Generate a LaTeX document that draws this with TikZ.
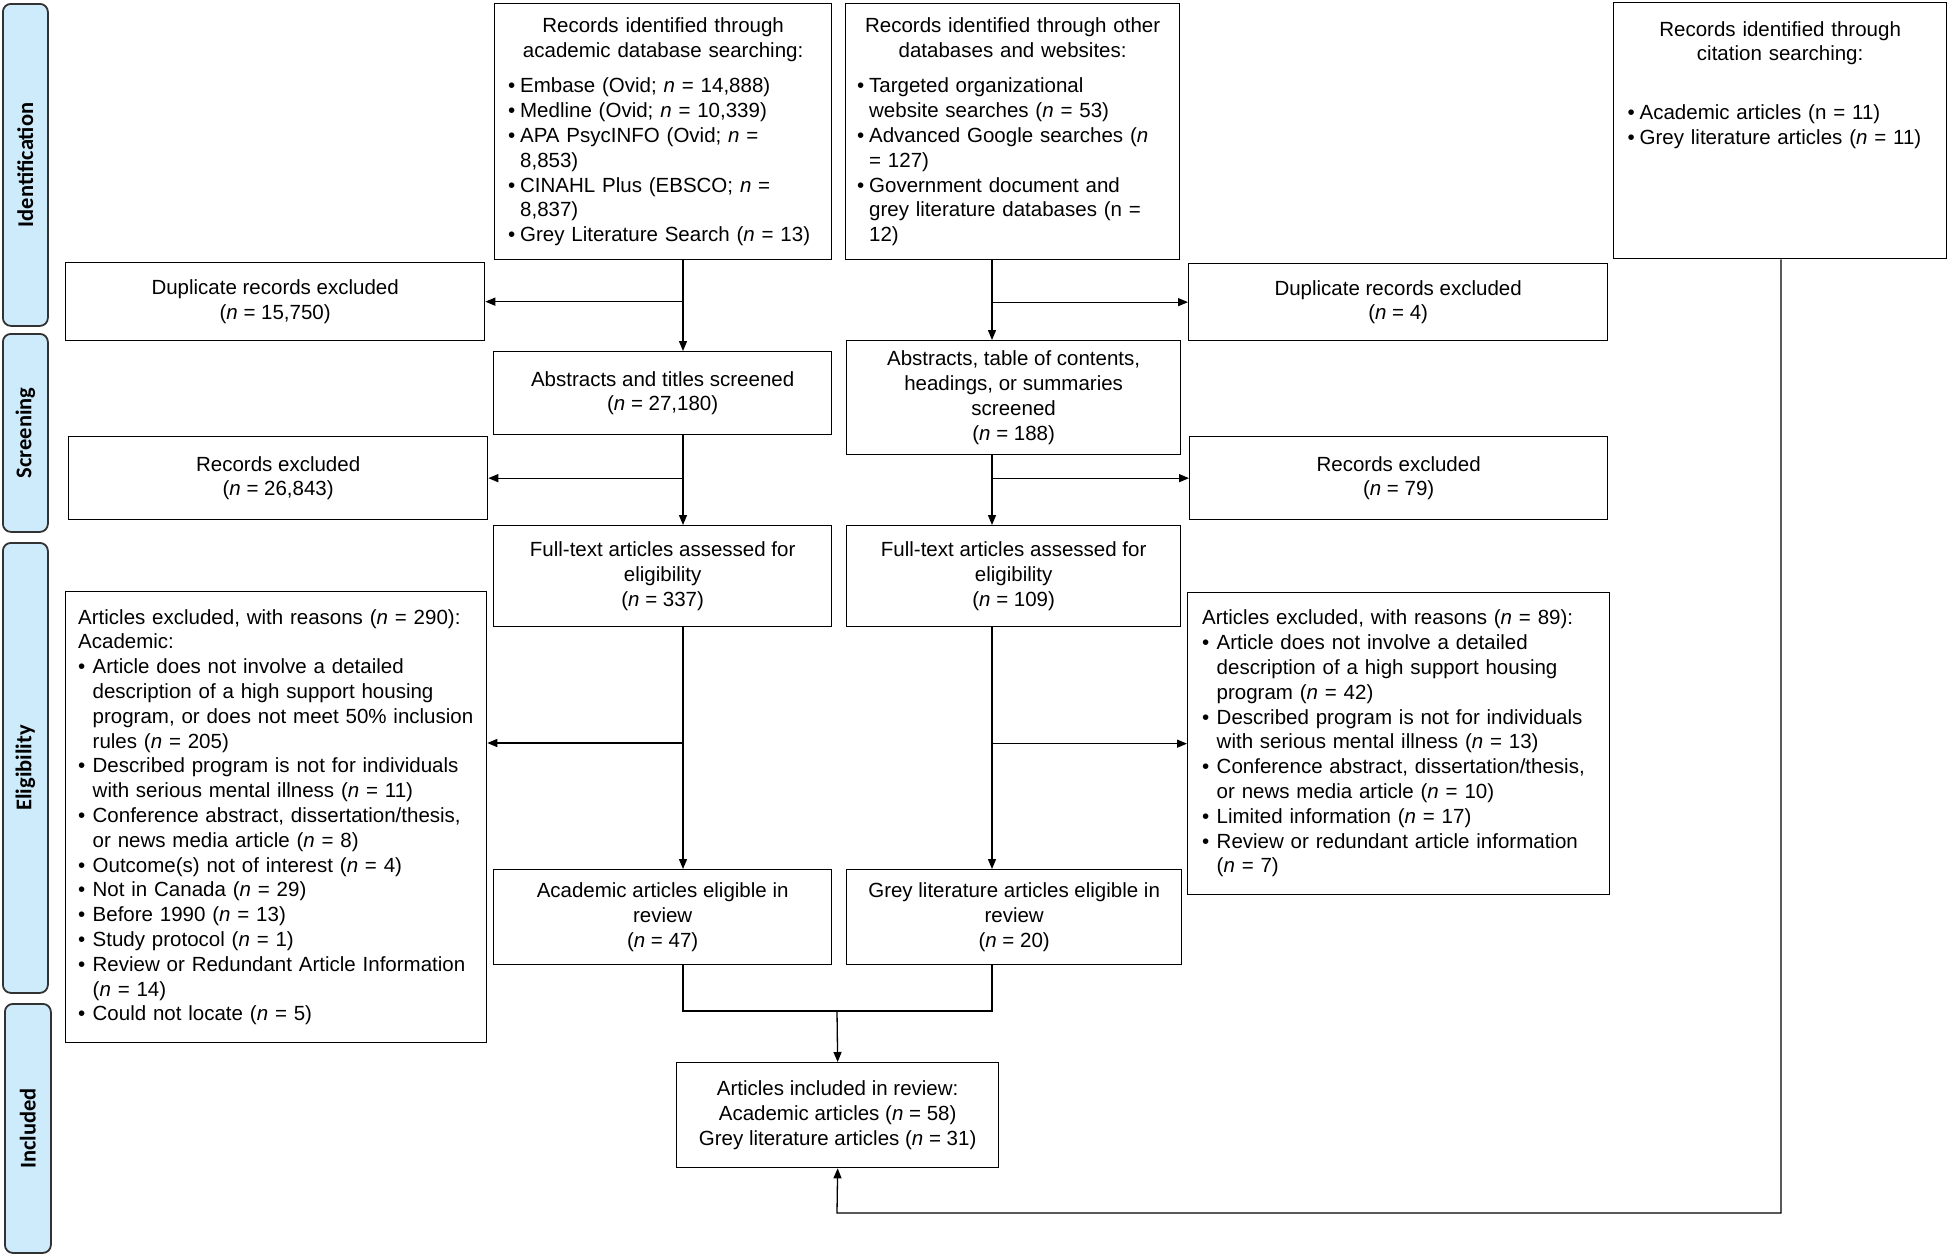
\documentclass[tikz,border=0pt]{standalone}
\usepackage{graphicx}
\usepackage{fontspec}
\setmainfont{Liberation Sans}
\newfontfamily\labfont{Carlito}
\usetikzlibrary{arrows.meta}
\definecolor{phasefill}{RGB}{205,235,250}
\definecolor{phaseline}{RGB}{50,50,50}
\newcommand\bx{\fontsize{20.5pt}{24.8pt}\selectfont\hyphenpenalty=10000\exhyphenpenalty=10000}
\newcommand\nn{\textit{n}}
\newcommand\bi[1]{\mbox{\makebox[12pt][l]{•}#1}}
\newcommand\ci[1]{\mbox{\hspace*{12pt}#1}}
\newcommand\bj[1]{\mbox{\makebox[14.5pt][l]{•}#1}}
\newcommand\cj[1]{\mbox{\hspace*{14.5pt}#1}}
\newcommand\hd[1]{\makebox[\linewidth][c]{#1}}
\tikzset{
  box/.style={draw=black, line width=1.3pt, anchor=north west, inner sep=0pt, font=\bx, align=center},
  lbox/.style={draw=black, line width=1.3pt, anchor=north west, inner sep=0pt, font=\bx, align=left},
  txt/.style={inner sep=0pt, font=\bx, align=left},
  phase/.style={draw=phaseline, fill=phasefill, line width=1.8pt, rounded corners=8pt, anchor=north west, inner sep=0pt, font=\labfont\bfseries\fontsize{22.5pt}{27pt}\selectfont},
  arr/.style={line width=1.3pt, -{Triangle[length=10pt,width=8pt]}},
  ln/.style={line width=1.3pt}
}
\begin{document}
\begin{tikzpicture}[x=1pt,y=-1pt]
\useasboundingbox (0,0) rectangle (1949,1254);
% phase labels
\node[phase, minimum width=45pt, minimum height=322pt] (pid) at (2,3) {\rotatebox{90}{Identification}};
\node[phase, minimum width=45pt, minimum height=198pt] (pscr) at (2,333) {\rotatebox{90}{Screening}};
\node[phase, minimum width=45pt, minimum height=450pt] (peli) at (2,542) {\rotatebox{90}{Eligibility}};
\node[phase, minimum width=46pt, minimum height=249pt] (pinc) at (4,1003) {\rotatebox{90}{Included}};
% identification boxes
\node[lbox, minimum width=337pt, minimum height=256pt, text width=310pt] (acad) at (494,3) {%
\hd{Records identified through}\\
\hd{academic database searching:}\\[11pt]
\bi{Embase (Ovid; \nn{} = 14,888)}\\
\bi{Medline (Ovid; \nn{} = 10,339)}\\
\bi{APA PsycINFO (Ovid; \nn{} =}\\
\ci{8,853)}\\
\bi{CINAHL Plus (EBSCO; \nn{} =}\\
\ci{8,837)}\\
\bi{Grey Literature Search (\nn{} = 13)}};
\node[lbox, minimum width=334pt, minimum height=256pt, text width=311pt] (other) at (845,3) {%
\hd{Records identified through other}\\
\hd{databases and websites:}\\[11pt]
\bi{Targeted organizational}\\
\ci{website searches (\nn{} = 53)}\\
\bi{Advanced Google searches (\nn}\\
\ci{= 127)}\\
\bi{Government document and}\\
\ci{grey literature databases (n =}\\
\ci{12)}};
\node[box, minimum width=333pt, minimum height=256pt] (cite) at (1613,2) {};
\node[txt, anchor=north, text width=305pt] (citetxt) at ([yshift=-19pt]cite.north) {%
\hd{Records identified through}\\
\hd{citation searching:}\\[34pt]
\bi{Academic articles (n = 11)}\\
\bi{Grey literature articles (\nn{} = 11)}};
\node[box, minimum width=419pt, minimum height=78pt] (dupL) at (65,262) {Duplicate records excluded\\(\nn{} = 15,750)};
\node[box, minimum width=419pt, minimum height=77pt] (dupR) at (1188,263) {Duplicate records excluded\\(\nn{} = 4)};
% screening
\node[box, minimum width=338pt, minimum height=83pt] (abs1) at (493,351) {Abstracts and titles screened\\(\nn{} = 27,180)};
\node[box, minimum width=334pt, minimum height=114pt] (abs2) at (846,340) {Abstracts, table of contents,\\headings, or summaries\\screened\\(\nn{} = 188)};
\node[box, minimum width=419pt, minimum height=83pt] (recL) at (68,436) {Records excluded\\(\nn{} = 26,843)};
\node[box, minimum width=418pt, minimum height=83pt] (recR) at (1189,436) {Records excluded\\(\nn{} = 79)};
% eligibility
\node[box, minimum width=338pt, minimum height=101pt] (ft1) at (493,525) {Full-text articles assessed for\\eligibility\\(\nn{} = 337)};
\node[box, minimum width=334pt, minimum height=101pt] (ft2) at (846,525) {Full-text articles assessed for\\eligibility\\(\nn{} = 109)};
\node[box, minimum width=421pt, minimum height=451pt] (lex) at (65,591) {};
\node[txt, anchor=west, text width=405pt] (lextxt) at ([xshift=13pt]lex.west) {%
Articles excluded, with reasons (\nn{} = 290):\\
Academic:\\
\bj{Article does not involve a detailed}\\
\cj{description of a high support housing}\\
\cj{program, or does not meet 50\% inclusion}\\
\cj{rules (\nn{} = 205)}\\
\bj{Described program is not for individuals}\\
\cj{with serious mental illness (\nn{} = 11)}\\
\bj{Conference abstract, dissertation/thesis,}\\
\cj{or news media article (\nn{} = 8)}\\
\bj{Outcome(s) not of interest (\nn{} = 4)}\\
\bj{Not in Canada (\nn{} = 29)}\\
\bj{Before 1990 (\nn{} = 13)}\\
\bj{Study protocol (\nn{} = 1)}\\
\bj{Review or Redundant Article Information}\\
\cj{(\nn{} = 14)}\\
\bj{Could not locate (\nn{} = 5)}};
\node[box, minimum width=422pt, minimum height=302pt] (rex) at (1187,592) {};
\node[txt, anchor=west, text width=405pt] (rextxt) at ([xshift=15pt]rex.west) {%
Articles excluded, with reasons (\nn{} = 89):\\
\bj{Article does not involve a detailed}\\
\cj{description of a high support housing}\\
\cj{program (\nn{} = 42)}\\
\bj{Described program is not for individuals}\\
\cj{with serious mental illness (\nn{} = 13)}\\
\bj{Conference abstract, dissertation/thesis,}\\
\cj{or news media article (\nn{} = 10)}\\
\bj{Limited information (\nn{} = 17)}\\
\bj{Review or redundant article information}\\
\cj{(\nn{} = 7)}};
\node[box, minimum width=338pt, minimum height=95pt] (el1) at (493,869) {Academic articles eligible in\\review\\(\nn{} = 47)};
\node[box, minimum width=335pt, minimum height=95pt] (el2) at (846,869) {Grey literature articles eligible in\\review\\(\nn{} = 20)};
% included
\node[box, minimum width=322pt, minimum height=105pt] (inc) at (676,1062) {Articles included in review:\\Academic articles (\nn{} = 58)\\Grey literature articles (\nn{} = 31)};
% connector columns
\coordinate (cA) at (683,0);
\coordinate (cB) at (992,0);
\coordinate (cC) at (837,0);
\coordinate (cD) at (1781,0);
\coordinate (bL) at (683,743);
\coordinate (mY) at (0,1011);
\coordinate (bY) at (0,1213);
% connectors
\draw[arr] (acad.south -| cA) -- (abs1.north -| cA);
\draw[arr] (cA |- dupL.east) -- (dupL.east);
\draw[arr] (other.south -| cB) -- (abs2.north -| cB);
\draw[arr] (cB |- dupR.west) -- (dupR.west);
\draw[arr] (abs1.south -| cA) -- (ft1.north -| cA);
\draw[arr] (cA |- recL.east) -- (recL.east);
\draw[arr] (abs2.south -| cB) -- (ft2.north -| cB);
\draw[arr] (cB |- recR.west) -- (recR.west);
\draw[arr] (ft1.south -| cA) -- (el1.north -| cA);
\draw[arr] (bL) -- (bL -| lex.east);
\draw[arr] (ft2.south -| cB) -- (el2.north -| cB);
\draw[arr] (cB |- rex.west) -- (rex.west);
\draw[ln] (el1.south -| cA) -- (cA |- mY) -- (cB |- mY) -- (el2.south -| cB);
\draw[arr] (cC |- mY) -- (inc.north);
\draw[arr] (cite.south -| cD) -- (cD |- bY) -- (cC |- bY) -- (inc.south);
\end{tikzpicture}
\end{document}
